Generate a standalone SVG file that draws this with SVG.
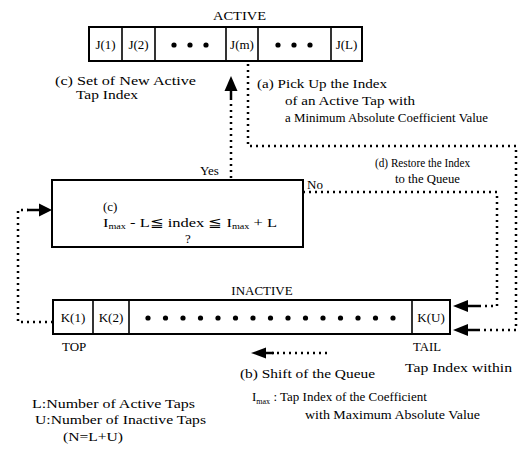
<svg xmlns="http://www.w3.org/2000/svg" width="531" height="451" viewBox="0 0 531 451">
<style>
text{font-family:"Liberation Serif","Times New Roman",serif;font-size:13px;fill:#000}
.c{text-anchor:middle}
.box{fill:#fff;stroke:#000;stroke-width:2}
.cell{fill:none;stroke:#000;stroke-width:1.6}
.dot{fill:#000}
.dl{fill:none;stroke:#000;stroke-width:2.5;stroke-dasharray:2 4}
.sh{fill:none;stroke:#000;stroke-width:2.5}
.ah{fill:#000}
.sub{font-size:8px}
</style>
<rect width="531" height="451" fill="#fff"/>

<g id="active">
<text x="213" y="20" textLength="53" lengthAdjust="spacingAndGlyphs">ACTIVE</text>
<rect x="89" y="27" width="273" height="34" class="box"/>
<line x1="122" y1="27" x2="122" y2="61" class="cell"/>
<line x1="155" y1="27" x2="155" y2="61" class="cell"/>
<line x1="226" y1="27" x2="226" y2="61" class="cell"/>
<line x1="258" y1="27" x2="258" y2="61" class="cell"/>
<line x1="331" y1="27" x2="331" y2="61" class="cell"/>
<text x="105.5" y="49" class="c">J(1)</text>
<text x="138.5" y="49" class="c">J(2)</text>
<circle cx="174" cy="45" r="2.6" class="dot"/><circle cx="190" cy="45" r="2.6" class="dot"/><circle cx="206" cy="45" r="2.6" class="dot"/>
<text x="242" y="49" class="c">J(m)</text>
<circle cx="278" cy="45" r="2.6" class="dot"/><circle cx="294" cy="45" r="2.6" class="dot"/><circle cx="310" cy="45" r="2.6" class="dot"/>
<text x="346.5" y="49" class="c">J(L)</text>
</g>

<g id="labels-top">
<text x="55" y="85" textLength="141" lengthAdjust="spacingAndGlyphs">(c) Set of New Active</text>
<text x="76" y="99" textLength="62" lengthAdjust="spacingAndGlyphs">Tap Index</text>
<text x="257" y="88" textLength="130" lengthAdjust="spacingAndGlyphs">(a) Pick Up the Index</text>
<text x="285" y="105" textLength="130" lengthAdjust="spacingAndGlyphs">of an Active Tap with</text>
<text x="285" y="122" textLength="203" lengthAdjust="spacingAndGlyphs">a Minimum Absolute Coefficient Value</text>
<text x="200" y="175">Yes</text>
<text x="307" y="189">No</text>
<text x="375" y="167" textLength="95" lengthAdjust="spacingAndGlyphs">(d) Restore the Index</text>
<text x="395" y="183" textLength="65" lengthAdjust="spacingAndGlyphs">to the Queue</text>
</g>

<g id="decision">
<rect x="52" y="180" width="251" height="67" class="box"/>
<text x="103" y="211">(c)</text>
<text x="103" y="227" font-size="14" textLength="174" lengthAdjust="spacingAndGlyphs">I<tspan class="sub" dy="2">max</tspan><tspan dy="-2"> - L≦ index ≦ I</tspan><tspan class="sub" dy="2">max</tspan><tspan dy="-2">  + L</tspan></text>
<text x="188" y="243" class="c">?</text>
</g>

<g id="inactive">
<text x="262" y="295" class="c">INACTIVE</text>
<rect x="53" y="300" width="397" height="34" class="box"/>
<line x1="93" y1="300" x2="93" y2="334" class="cell"/>
<line x1="129" y1="300" x2="129" y2="334" class="cell"/>
<line x1="412" y1="300" x2="412" y2="334" class="cell"/>
<text x="73" y="322" class="c">K(1)</text>
<text x="111" y="322" class="c">K(2)</text>
<g class="dot">
<circle cx="148" cy="318" r="2.6"/><circle cx="165.5" cy="318" r="2.6"/><circle cx="183" cy="318" r="2.6"/><circle cx="200.5" cy="318" r="2.6"/><circle cx="218" cy="318" r="2.6"/><circle cx="235.5" cy="318" r="2.6"/><circle cx="253" cy="318" r="2.6"/><circle cx="270.5" cy="318" r="2.6"/><circle cx="288" cy="318" r="2.6"/><circle cx="305.5" cy="318" r="2.6"/><circle cx="323" cy="318" r="2.6"/><circle cx="340.5" cy="318" r="2.6"/><circle cx="358" cy="318" r="2.6"/><circle cx="375.5" cy="318" r="2.6"/><circle cx="393" cy="318" r="2.6"/>
</g>
<text x="431" y="322" class="c">K(U)</text>
<text x="62" y="351">TOP</text>
<text x="413" y="351" textLength="28" lengthAdjust="spacingAndGlyphs">TAIL</text>
</g>

<g id="connectors">
<!-- Yes: decision box up to ACTIVE -->
<path d="M231 178 V97" class="dl"/>
<path d="M231 98 V88" class="sh"/>
<polygon points="231,76 224.5,91 237.5,91" class="ah"/>
<!-- (a) pick up, then (d) restore to tail -->
<path d="M248 64 V146 H516 V330 H480" class="dl"/>
<path d="M480 330 H466" class="sh"/>
<polygon points="453,330 468,324 468,336" class="ah"/>
<!-- No: to tail -->
<path d="M303 192 H497 V306 H480" class="dl"/>
<path d="M480 306 H466" class="sh"/>
<polygon points="453,306 468,300 468,312" class="ah"/>
<!-- From TOP back to decision -->
<path d="M53 322 H18 V210 H28" class="dl"/>
<path d="M27 210 H42" class="sh"/>
<polygon points="52,210 39,203.5 39,216.5" class="ah"/>
<!-- Shift of queue -->
<path d="M327 353 H272" class="dl"/>
<path d="M274 353 H262" class="sh"/>
<polygon points="251,353 266,347.5 266,358.5" class="ah"/>
</g>

<g id="legend">
<text x="405" y="372" textLength="107" lengthAdjust="spacingAndGlyphs">Tap Index within</text>
<text x="240" y="378" textLength="135" lengthAdjust="spacingAndGlyphs">(b) Shift of the Queue</text>
<text x="32" y="408" textLength="163" lengthAdjust="spacingAndGlyphs">L:Number of Active Taps</text>
<text x="35" y="424" textLength="171" lengthAdjust="spacingAndGlyphs">U:Number of Inactive Taps</text>
<text x="63" y="441" textLength="60" lengthAdjust="spacingAndGlyphs">(N=L+U)</text>
<text x="252" y="401" font-size="14">I<tspan class="sub" dy="3">max</tspan><tspan dy="-3" font-size="13"> : Tap Index of the Coefficient</tspan></text>
<text x="305" y="419" textLength="175" lengthAdjust="spacingAndGlyphs">with Maximum Absolute Value</text>
</g>
</svg>
